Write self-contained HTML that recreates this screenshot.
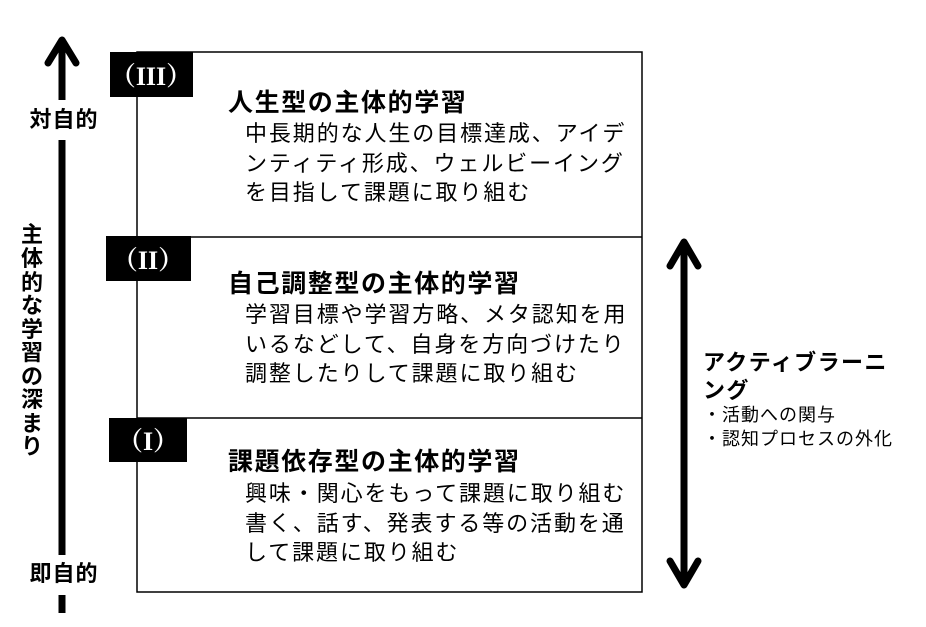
<!DOCTYPE html>
<html><head><meta charset="utf-8"><style>
html,body{margin:0;padding:0;background:#fff;}
svg{display:block;}
.t{font-family:"Liberation Sans","Noto Sans CJK JP",sans-serif;font-weight:bold;font-size:25px;letter-spacing:1.6px;fill:#000;}
.b{font-family:"Liberation Sans","Noto Sans CJK JP",sans-serif;font-size:22px;letter-spacing:1.9px;fill:#000;}
.r{font-family:"Liberation Serif","Noto Serif CJK SC",serif;font-weight:bold;font-size:26px;fill:#fff;}
.l{font-family:"Liberation Sans","Noto Sans CJK JP",sans-serif;font-weight:bold;font-size:22px;fill:#000;}
.s{font-family:"Liberation Sans","Noto Sans CJK JP",sans-serif;font-size:18px;letter-spacing:1px;fill:#000;}
</style></head><body>
<svg width="926" height="627" viewBox="0 0 926 627" xmlns="http://www.w3.org/2000/svg">
<rect x="137" y="52" width="505" height="540" fill="none" stroke="#000" stroke-width="1.5"/>
<line x1="137" y1="237" x2="642" y2="237" stroke="#000" stroke-width="1.5"/>
<line x1="137" y1="418" x2="642" y2="418" stroke="#000" stroke-width="1.5"/>
<rect x="110" y="52" width="83" height="45" fill="#000"/>
<text x="151" y="85" class="r" text-anchor="middle">（III）</text>
<rect x="106" y="236" width="85" height="45" fill="#000"/>
<text x="148" y="269" class="r" text-anchor="middle">（II）</text>
<rect x="109" y="418" width="78" height="44" fill="#000"/>
<text x="148" y="450" class="r" text-anchor="middle">（I）</text>
<text x="228" y="111" class="t">人生型の主体的学習</text>
<text x="245" y="141" class="b">中長期的な人生の目標達成、アイデ</text>
<text x="245" y="171" class="b">ンティティ形成、ウェルビーイング</text>
<text x="245" y="200" class="b">を目指して課題に取り組む</text>
<text x="228" y="292" class="t">自己調整型の主体的学習</text>
<text x="245" y="322" class="b">学習目標や学習方略、メタ認知を用</text>
<text x="245" y="352" class="b">いるなどして、自身を方向づけたり</text>
<text x="245" y="381" class="b">調整したりして課題に取り組む</text>
<text x="228" y="470" class="t">課題依存型の主体的学習</text>
<text x="245" y="501" class="b">興味・関心をもって課題に取り組む</text>
<text x="245" y="531" class="b">書く、話す、発表する等の活動を通</text>
<text x="245" y="560" class="b">して課題に取り組む</text>
<line x1="62" y1="40" x2="62" y2="100" stroke="#000" stroke-width="7"/>
<polyline points="48,63 62,40 76,63" fill="none" stroke="#000" stroke-width="7" stroke-linecap="round" stroke-linejoin="round"/>
<line x1="62" y1="140" x2="62" y2="555" stroke="#000" stroke-width="7"/>
<line x1="62" y1="595" x2="62" y2="613" stroke="#000" stroke-width="7"/>
<text x="64" y="127" class="l" text-anchor="middle" letter-spacing="1">対自的</text>
<text x="64" y="581" class="l" text-anchor="middle" letter-spacing="1">即自的</text>
<text class="l" text-anchor="middle">
<tspan x="32" y="242">主</tspan><tspan x="32" y="266">体</tspan><tspan x="32" y="290">的</tspan><tspan x="32" y="313">な</tspan><tspan x="32" y="337">学</tspan><tspan x="32" y="360">習</tspan><tspan x="32" y="384">の</tspan><tspan x="32" y="407">深</tspan><tspan x="32" y="431">ま</tspan><tspan x="32" y="454">り</tspan>
</text>
<line x1="684" y1="242" x2="684" y2="585" stroke="#000" stroke-width="7"/>
<polyline points="670,266 684,242 698,266" fill="none" stroke="#000" stroke-width="7" stroke-linecap="round" stroke-linejoin="round"/>
<polyline points="670,561 684,585 698,561" fill="none" stroke="#000" stroke-width="7" stroke-linecap="round" stroke-linejoin="round"/>
<text x="703" y="370" class="l" letter-spacing="1.4">アクティブラーニ</text>
<text x="703" y="398" class="l" letter-spacing="1.4">ング</text>
<text x="703" y="421" class="s">・活動への関与</text>
<text x="703" y="445" class="s">・認知プロセスの外化</text>
</svg>
</body></html>
